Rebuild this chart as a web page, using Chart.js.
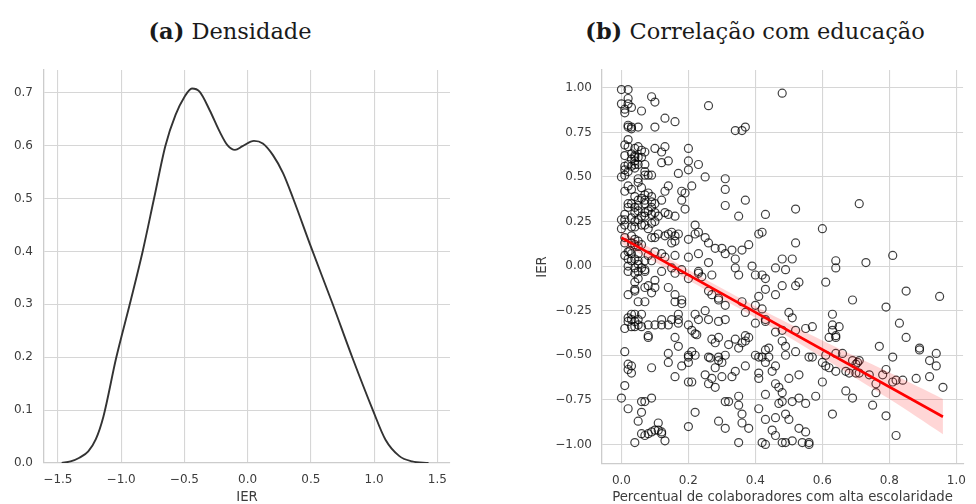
<!DOCTYPE html>
<html>
<head>
<meta charset="utf-8">
<script src="https://cdn.jsdelivr.net/npm/chart.js@4.4.1/dist/chart.umd.min.js"></script>
<style>
    body { margin: 0; background: #fff; width: 976px; height: 504px; position: relative; overflow: hidden; }
    canvas { position: absolute; top: 0; }
    .titulo { position: absolute; top: 20px; font-family: "DejaVu Serif", serif; font-size: 22.5px; line-height: 22.5px; color: #1a1a1a; white-space: nowrap; transform: translateX(-50%); }
</style>
</head>
<body>
<div class="titulo" style="left:230px"><b>(a)</b> Densidade</div>
<div class="titulo" style="left:755px"><b>(b)</b> Correlação com educação</div>
<canvas id="densidade" width="470" height="504" style="left:0"></canvas>
<canvas id="correlacao" width="446" height="504" style="left:530px"></canvas>
<script>
// (a) curva de densidade do IER
const kdeX = [-1.47, -1.40, -1.33, -1.26, -1.20, -1.14, -1.04, -0.93, -0.83, -0.74, -0.65, -0.57, -0.50, -0.44, -0.38, -0.30, -0.22, -0.16, -0.10, -0.04, 0.05, 0.12, 0.20, 0.28, 0.36, 0.50, 0.67, 0.83, 0.99, 1.09, 1.20, 1.30, 1.43];
const kdeY = [0.0, 0.003, 0.010, 0.022, 0.045, 0.088, 0.198, 0.302, 0.40, 0.50, 0.60, 0.658, 0.692, 0.708, 0.702, 0.667, 0.626, 0.601, 0.592, 0.599, 0.609, 0.604, 0.582, 0.548, 0.50, 0.409, 0.302, 0.198, 0.10, 0.044, 0.013, 0.003, 0.0];
const densTicksX = [-1.5, -1.0, -0.5, 0.0, 0.5, 1.0, 1.5];
const densTicksY = [0.0, 0.1, 0.2, 0.3, 0.4, 0.5, 0.6, 0.7];

// (b) IER x percentual de colaboradores com alta escolaridade
const pontos = [
    [0.00,0.99],[0.02,0.99],[0.02,0.94],[0.00,0.91],[0.01,0.88],[0.02,0.91],[0.01,0.86],[0.03,0.89],[0.06,0.87],[0.09,0.95],[0.10,0.92],[0.26,0.90],[0.48,0.97],[0.13,0.83],[0.16,0.81],[0.10,0.78],[0.02,0.79],[0.02,0.78],[0.03,0.77],[0.05,0.78],[0.03,0.78],[0.34,0.76],[0.36,0.76],[0.37,0.78],[0.02,0.71],
    [0.01,0.68],[0.02,0.67],[0.04,0.66],[0.05,0.67],[0.06,0.65],[0.07,0.64],[0.01,0.62],[0.03,0.63],[0.04,0.62],[0.04,0.61],[0.03,0.60],[0.04,0.59],[0.05,0.61],[0.06,0.61],[0.04,0.57],[0.05,0.57],[0.02,0.57],[0.01,0.56],[0.03,0.56],[0.04,0.55],[0.07,0.57],[0.01,0.54],[0.02,0.53],[0.00,0.50],[0.01,0.51],[0.05,0.49],[0.07,0.51],[0.08,0.51],[0.09,0.51],[0.10,0.66],[0.12,0.64],[0.13,0.67],[0.12,0.58],[0.14,0.59],[0.20,0.66],[0.20,0.59],[0.23,0.57],[0.20,0.54],[0.17,0.52],[0.25,0.50],[0.31,0.49],[0.07,0.53],
    [0.01,0.42],[0.02,0.45],[0.03,0.43],[0.05,0.47],[0.06,0.44],[0.14,0.45],[0.13,0.42],[0.12,0.37],[0.09,0.39],[0.08,0.41],[0.07,0.40],[0.06,0.38],[0.05,0.37],[0.04,0.39],[0.03,0.35],[0.02,0.35],[0.02,0.33],[0.04,0.33],[0.05,0.34],[0.07,0.35],[0.07,0.37],[0.09,0.36],[0.10,0.35],[0.09,0.33],[0.08,0.31],[0.07,0.30],[0.05,0.31],[0.04,0.30],[0.06,0.28],[0.07,0.28],[0.09,0.29],[0.10,0.30],[0.11,0.28],[0.13,0.30],[0.14,0.29],[0.16,0.28],[0.18,0.42],[0.18,0.37],[0.19,0.41],[0.21,0.45],[0.19,0.32],[0.31,0.43],[0.31,0.34],[0.37,0.37],[0.35,0.28],[0.43,0.29],[0.52,0.32],[0.71,0.35],[0.01,0.29],[0.00,0.26],[0.01,0.26],[0.03,0.27],[0.04,0.25],[0.05,0.26],
    [0.00,0.21],[0.01,0.23],[0.03,0.22],[0.04,0.22],[0.06,0.23],[0.07,0.23],[0.08,0.21],[0.09,0.24],[0.10,0.25],[0.09,0.16],[0.10,0.16],[0.11,0.18],[0.13,0.17],[0.14,0.18],[0.15,0.19],[0.16,0.17],[0.17,0.18],[0.15,0.13],[0.16,0.14],[0.01,0.16],[0.03,0.17],[0.04,0.15],[0.05,0.14],[0.03,0.13],[0.01,0.13],[0.04,0.12],[0.05,0.11],[0.06,0.12],[0.02,0.08],[0.01,0.06],[0.025,0.085],[0.03,0.07],[0.05,0.07],[0.02,0.04],[0.03,0.03],[0.04,0.04],[0.05,0.03],[0.07,0.03],[0.08,0.06],[0.09,0.03],[0.10,0.08],[0.12,0.07],[0.13,0.05],[0.02,0.00],[0.04,-0.01],[0.05,0.01],[0.06,-0.01],[0.07,-0.02],
    [0.20,0.15],[0.22,0.23],[0.23,0.19],[0.22,0.18],[0.25,0.16],[0.26,0.13],[0.28,0.10],[0.30,0.10],[0.31,0.07],[0.33,0.09],[0.34,0.04],[0.36,0.09],[0.38,0.12],[0.23,0.07],[0.26,0.02],[0.20,0.05],[0.16,0.06],[0.41,0.18],[0.42,0.19],[0.48,0.04],[0.51,0.04],[0.52,0.13],[0.60,0.21],[0.81,0.06],[0.73,0.02],[0.64,0.03],[0.39,0.00],[0.46,-0.01],[0.34,-0.01],
    [0.02,-0.03],[0.04,-0.04],[0.05,-0.03],[0.07,-0.03],[0.04,-0.09],[0.05,-0.07],[0.04,-0.13],[0.04,-0.14],[0.02,-0.16],[0.07,-0.12],[0.08,-0.11],[0.09,-0.15],[0.10,-0.12],[0.10,-0.08],[0.14,-0.12],[0.12,-0.03],[0.15,-0.01],[0.18,-0.02],[0.20,-0.07],[0.16,-0.04],[0.16,-0.16],[0.18,-0.19],[0.16,-0.20],[0.18,-0.21],[0.07,-0.20],[0.05,-0.20],[0.23,-0.03],[0.23,-0.04],[0.24,-0.06],[0.27,-0.05],[0.26,-0.14],[0.27,-0.16],[0.29,-0.18],[0.29,-0.19],[0.31,-0.22],[0.35,-0.05],[0.40,-0.05],[0.42,-0.05],[0.43,-0.07],[0.43,-0.13],[0.41,-0.17],[0.36,-0.20],[0.37,-0.26],[0.40,-0.22],[0.42,-0.24],[0.46,-0.16],[0.48,-0.11],[0.49,-0.02],[0.52,-0.11],[0.53,-0.09],[0.61,-0.09],[0.64,-0.01],[0.69,-0.19],[0.79,-0.23],[0.85,-0.14],[0.95,-0.17],[0.63,-0.27],
    [0.01,-0.35],[0.02,-0.29],[0.03,-0.27],[0.03,-0.30],[0.04,-0.31],[0.04,-0.34],[0.05,-0.33],[0.06,-0.34],[0.03,-0.34],[0.04,-0.27],[0.06,-0.27],[0.05,-0.30],[0.02,-0.31],[0.08,-0.39],[0.08,-0.40],[0.08,-0.33],[0.10,-0.33],[0.12,-0.30],[0.12,-0.33],[0.14,-0.33],[0.15,-0.30],[0.17,-0.30],[0.17,-0.32],[0.17,-0.27],[0.20,-0.33],[0.21,-0.36],[0.22,-0.38],[0.225,-0.385],[0.22,-0.27],[0.23,-0.30],[0.25,-0.25],[0.26,-0.30],[0.29,-0.31],[0.31,-0.30],[0.27,-0.41],[0.29,-0.40],[0.28,-0.43],[0.32,-0.44],[0.34,-0.41],[0.35,-0.46],[0.36,-0.43],[0.37,-0.39],[0.37,-0.42],[0.38,-0.40],[0.40,-0.32],[0.43,-0.30],[0.43,-0.31],[0.44,-0.46],[0.46,-0.37],[0.48,-0.36],[0.48,-0.42],[0.49,-0.45],[0.50,-0.26],[0.51,-0.29],[0.52,-0.36],[0.52,-0.48],[0.55,-0.35],[0.57,-0.34],[0.62,-0.40],[0.63,-0.36],[0.63,-0.33],[0.64,-0.40],[0.65,-0.34],[0.64,-0.39],[0.85,-0.40],[0.83,-0.32],[0.77,-0.45],[0.81,-0.51],[0.89,-0.46],[0.89,-0.47],[0.94,-0.49],[0.01,-0.48],[0.17,-0.45],[0.14,-0.49],[0.16,-0.40],[0.20,-0.50],[0.21,-0.48],[0.22,-0.50],[0.31,-0.50],[0.56,-0.51],
    [0.02,-0.55],[0.03,-0.56],[0.02,-0.58],[0.03,-0.60],[0.01,-0.67],[0.09,-0.57],[0.14,-0.54],[0.16,-0.62],[0.18,-0.56],[0.20,-0.54],[0.20,-0.51],[0.21,-0.65],[0.26,-0.51],[0.265,-0.515],[0.29,-0.51],[0.29,-0.53],[0.30,-0.54],[0.28,-0.57],[0.27,-0.63],[0.25,-0.61],[0.26,-0.66],[0.28,-0.68],[0.30,-0.62],[0.33,-0.62],[0.34,-0.59],[0.37,-0.56],[0.40,-0.50],[0.41,-0.51],[0.42,-0.51],[0.43,-0.47],[0.44,-0.51],[0.43,-0.54],[0.45,-0.59],[0.46,-0.56],[0.41,-0.60],[0.41,-0.63],[0.46,-0.66],[0.47,-0.68],[0.50,-0.63],[0.53,-0.61],[0.49,-0.50],[0.57,-0.51],[0.60,-0.54],[0.61,-0.50],[0.61,-0.56],[0.62,-0.57],[0.64,-0.59],[0.64,-0.49],[0.66,-0.49],[0.67,-0.59],[0.68,-0.60],[0.69,-0.53],[0.70,-0.55],[0.705,-0.54],[0.71,-0.53],[0.70,-0.60],[0.71,-0.60],[0.74,-0.61],[0.76,-0.66],[0.78,-0.61],[0.79,-0.58],[0.81,-0.65],[0.82,-0.64],[0.84,-0.64],[0.88,-0.63],[0.92,-0.62],[0.92,-0.53],[0.94,-0.56],[0.96,-0.68],[0.60,-0.65],[0.67,-0.70],[0.69,-0.74],[0.76,-0.71],[0.58,-0.73],[0.48,-0.71],[0.43,-0.72],[0.35,-0.73],[0.20,-0.65],
    [0.00,-0.74],[0.02,-0.80],[0.06,-0.76],[0.07,-0.76],[0.09,-0.74],[0.06,-0.82],[0.05,-0.87],[0.04,-0.99],[0.06,-0.94],[0.07,-0.95],[0.08,-0.94],[0.09,-0.93],[0.10,-0.92],[0.11,-0.92],[0.11,-0.88],[0.12,-0.93],[0.12,-0.94],[0.13,-0.98],[0.20,-0.90],[0.22,-0.82],[0.29,-0.87],[0.31,-0.76],[0.32,-0.76],[0.31,-0.91],[0.35,-0.78],[0.35,-0.99],[0.36,-0.83],[0.36,-0.88],[0.38,-0.91],[0.41,-0.80],[0.43,-0.86],[0.42,-0.99],[0.43,-1.00],[0.45,-0.92],[0.46,-0.95],[0.46,-0.85],[0.47,-0.77],[0.48,-0.76],[0.48,-0.99],[0.49,-0.83],[0.50,-0.86],[0.49,-0.99],[0.51,-0.98],[0.51,-0.76],[0.53,-0.74],[0.53,-0.91],[0.54,-0.99],[0.55,-0.77],[0.55,-0.93],[0.56,-0.99],[0.56,-1.00],[0.63,-0.83],[0.75,-0.78],[0.79,-0.84],[0.82,-0.95]
];
// reta de regressao e intervalo de confianca
const regX = [0.0, 0.96];
const regY = [0.16, -0.845];
const bandX = [0.0, 0.2, 0.4, 0.6, 0.8, 0.96];
const bandHi = [0.195, -0.02, -0.225, -0.417, -0.597, -0.745];
const bandLo = [0.125, -0.08, -0.29, -0.512, -0.746, -0.943];
const corrTicksX = [0.0, 0.2, 0.4, 0.6, 0.8, 1.0];
const corrTicksY = [-1.0, -0.75, -0.5, -0.25, 0.0, 0.25, 0.5, 0.75, 1.0];

const gridColor = "#d6d6d6";
const tickFont = { family: "DejaVu Sans", size: 12 };
const labelFont = { family: "DejaVu Sans", size: 13.3 };
const tickColor = "#3c3c3c";

function fmt(v, d) {
    return v.toFixed(d).replace("-", "\u2212");
}

function eixo(ticks, min, max, casas, pad, extra) {
    return Object.assign({
        type: "linear",
        min: min,
        max: max,
        afterBuildTicks: (axis) => { axis.ticks = ticks.map(v => ({ value: v })); },
        grid: { color: gridColor, lineWidth: 1.1, drawTicks: false },
        border: { color: "#cccccc", width: 1.3 },
        ticks: {
            autoSkip: false,
            maxRotation: 0,
            padding: pad,
            font: tickFont,
            color: tickColor,
            callback: (v) => fmt(v, casas),
        },
    }, extra);
}

new Chart(document.getElementById("densidade"), {
    type: "line",
    data: {
        datasets: [{
            data: kdeX.map((x, i) => ({ x: x, y: kdeY[i] })),
            borderColor: "#333333",
            borderWidth: 1.9,
            pointRadius: 0,
            cubicInterpolationMode: "monotone",
            fill: false,
        }],
    },
    options: {
        responsive: false,
        animation: false,
        devicePixelRatio: 1,
        layout: { padding: { top: 70, right: 20, left: 0, bottom: 0 } },
        plugins: { legend: { display: false }, tooltip: { enabled: false } },
        scales: {
            x: eixo(densTicksX, -1.61, 1.6, 1, 10, {
                afterFit: (s) => { s.height = 41; },
                title: { display: true, text: "IER", font: labelFont, color: tickColor, padding: { top: 0, bottom: -2 } },
            }),
            y: eixo(densTicksY, 0, 0.743, 1, 11, {
                afterFit: (s) => { s.width = 44; },
            }),
        },
    },
});

new Chart(document.getElementById("correlacao"), {
    type: "scatter",
    data: {
        datasets: [
            {
                type: "line",
                data: regX.map((x, i) => ({ x: x, y: regY[i] })),
                borderColor: "#ff0000",
                borderWidth: 2.6,
                pointRadius: 0,
                fill: false,
            },
            {
                type: "line",
                data: bandX.map((x, i) => ({ x: x, y: bandHi[i] })),
                borderWidth: 0,
                pointRadius: 0,
                tension: 0.3,
                fill: "+1",
                backgroundColor: "rgba(255, 0, 0, 0.16)",
            },
            {
                type: "line",
                data: bandX.map((x, i) => ({ x: x, y: bandLo[i] })),
                borderWidth: 0,
                pointRadius: 0,
                tension: 0.3,
                fill: false,
            },
            {
                data: pontos.map(p => ({ x: p[0], y: p[1] })),
                pointRadius: 4,
                pointBorderWidth: 1.2,
                borderColor: "rgba(0, 0, 0, 0.75)",
                backgroundColor: "rgba(0, 0, 0, 0)",
            },
        ],
    },
    options: {
        responsive: false,
        animation: false,
        devicePixelRatio: 1,
        layout: { padding: { top: 70, right: 3, left: 5, bottom: 0 } },
        plugins: { legend: { display: false }, tooltip: { enabled: false } },
        scales: {
            x: eixo(corrTicksX, -0.058, 1.02, 1, 10, {
                afterFit: (s) => { s.height = 40; },
                title: { display: true, text: "Percentual de colaboradores com alta escolaridade", font: labelFont, color: tickColor, padding: { top: 0, bottom: -2 } },
            }),
            y: eixo(corrTicksY, -1.11, 1.10, 2, 10, {
                afterFit: (s) => { s.width = 67; },
                title: { display: true, text: "IER", font: labelFont, color: tickColor, padding: { top: 0, bottom: 0 } },
            }),
        },
    },
});
</script>
</body>
</html>
